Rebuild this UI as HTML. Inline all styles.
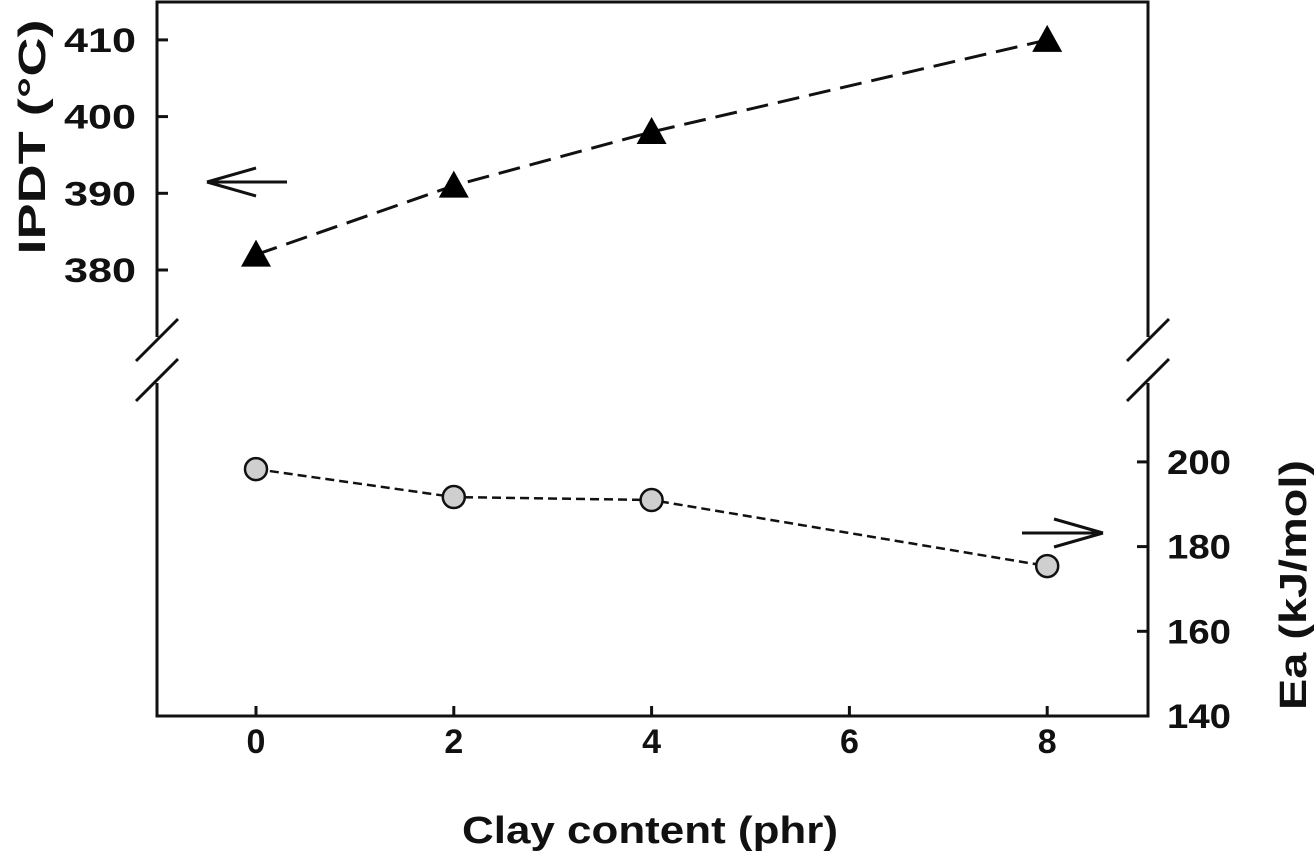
<!DOCTYPE html>
<html><head><meta charset="utf-8"><style>
html,body{margin:0;padding:0;background:#fff;}
svg{display:block;font-family:"Liberation Sans",Arial,sans-serif;font-weight:bold;}
</style></head><body>
<svg id="chart" width="1316" height="858" viewBox="0 0 1316 858">
<g id="frame" stroke="#111" stroke-width="3" fill="none">
 <polyline points="157,337 157,2 1148,2 1148,337"/>
 <polyline points="157,383 157,716 1148,716 1148,383"/>
 <line x1="136" y1="361" x2="178" y2="319"/>
 <line x1="136" y1="401" x2="178" y2="359"/>
 <line x1="1127" y1="361" x2="1169" y2="319"/>
 <line x1="1127" y1="401" x2="1169" y2="359"/>
</g>
<g id="ticks" stroke="#111" stroke-width="3"></g>
<g id="labels" fill="#111" font-size="34"></g>
<g id="series"></g>
<g stroke="#111" stroke-width="3" fill="none">
 <path d="M287,182 H207 M207,182 L256,168 M207,182 L256,196"/>
 <path d="M1022,533 H1103 M1103,533 L1054,519 M1103,533 L1054,547"/>
</g>
<text x="650" y="843" text-anchor="middle" font-size="38" textLength="376" lengthAdjust="spacingAndGlyphs" fill="#111">Clay content (phr)</text>
<text transform="translate(45,137) rotate(-90)" text-anchor="middle" font-size="38" textLength="235" lengthAdjust="spacingAndGlyphs" fill="#111">IPDT (°C)</text>
<text transform="translate(1306,585) rotate(-90)" text-anchor="middle" font-size="38" textLength="250" lengthAdjust="spacingAndGlyphs" fill="#111">Ea (kJ/mol)</text>
</svg>
<script>
const xCats = [0, 2, 4, 8];
const xTicks = [0, 2, 4, 6, 8];
const ipdtValues = [382, 391, 398, 410];
const eaValues = [198.3, 191.7, 191, 175.4];
const leftTicks = [380, 390, 400, 410];
const rightTicks = [140, 160, 180, 200];

const NS = "http://www.w3.org/2000/svg";
function xs(v){ return 256 + (v - 0) * 98.9; }
function yL(v){ return 270 - (v - 380) * 7.67; }
function yR(v){ return 716 - (v - 140) * 4.235; }
function mk(tag, attrs, parent){
  const e = document.createElementNS(NS, tag);
  for (const k in attrs) e.setAttribute(k, attrs[k]);
  parent.appendChild(e);
  return e;
}
const tk = document.getElementById('ticks');
const lb = document.getElementById('labels');
const sr = document.getElementById('series');

xTicks.forEach(v => {
  const t = mk('line', {x1: xs(v), x2: xs(v), y1: 716, y2: 706}, tk);
  
  
  const l = mk('text', {x: xs(v), y: 753, 'text-anchor': 'middle'}, lb);
  l.textContent = v;
  
  
});
leftTicks.forEach(v => {
  const t = mk('line', {x1: 157, x2: 168, y1: yL(v), y2: yL(v)}, tk);
  
  
  const l = mk('text', {x: 64, y: yL(v) + 12, 'text-anchor': 'start', textLength: 72, lengthAdjust: 'spacingAndGlyphs'}, lb);
  l.textContent = v;
  
  
});
rightTicks.forEach(v => {
  const t = mk('line', {x1: 1137, x2: 1148, y1: yR(v), y2: yR(v)}, tk);
  
  
  const l = mk('text', {x: 1167, y: yR(v) + 12, 'text-anchor': 'start', textLength: 64, lengthAdjust: 'spacingAndGlyphs'}, lb);
  l.textContent = v;
  
  
});

const ipdtLine = mk('polyline', {points: xCats.map((c,i)=>xs(c)+','+yL(ipdtValues[i])).join(' '), fill: 'none', stroke: '#111', 'stroke-width': 3, 'stroke-dasharray': '22 10'}, sr);


const eaLine = mk('polyline', {points: xCats.map((c,i)=>xs(c)+','+yR(eaValues[i])).join(' '), fill: 'none', stroke: '#111', 'stroke-width': 2.5, 'stroke-dasharray': '9 5'}, sr);



xCats.forEach((c,i) => {
  const x = xs(c), y = yL(ipdtValues[i]);
  const t = mk('polygon', {points: `${x},${y-15} ${x-15},${y+12} ${x+15},${y+12}`, fill: '#000'}, sr);
  
  
  const cc = mk('circle', {cx: x, cy: yR(eaValues[i]), r: 11, fill: '#cfcfcf', stroke: '#111', 'stroke-width': 2.5}, sr);
  
  
});
</script>
</body></html>
